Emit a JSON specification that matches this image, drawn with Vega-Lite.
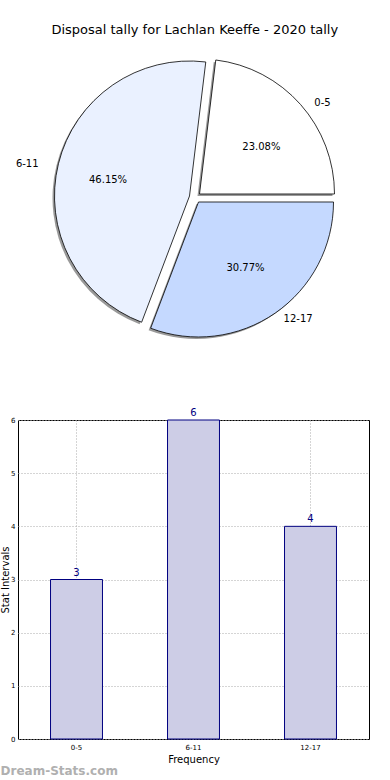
{
  "$schema": "https://vega.github.io/schema/vega-lite/v6.json",
  "padding": {"left": 0, "top": 24, "right": 0, "bottom": 0},
  "config": {
    "font": "DejaVu Sans",
    "view": {"stroke": "#000000", "strokeWidth": 1},
    "axis": {"labelFont": "DejaVu Sans", "titleFont": "DejaVu Sans", "labelColor": "#000", "titleColor": "#000", "titleFontWeight": "normal", "minExtent": 0}
  },
  "title": {"text": "Disposal tally for Lachlan Keeffe - 2020 tally", "fontSize": 13, "fontWeight": "normal", "font": "DejaVu Sans", "anchor": "middle", "color": "#000", "offset": 5, "dx": 10},
  "datasets": {
    "tally": [
      {"cat": "0-5", "count": 3, "pct": "23.08%"},
      {"cat": "6-11", "count": 6, "pct": "46.15%"},
      {"cat": "12-17", "count": 4, "pct": "30.77%"}
    ]
  },
  "vconcat": [
    {
      "width": 351,
      "height": 310,
      "view": {"stroke": null},
      "data": {"name": "tally"},
      "transform": [
        {"stack": "count", "groupby": [], "as": ["s0", "s1"], "sort": [{"field": "cat", "order": "ascending"}]}
      ],
      "encoding": {
        "theta": {"field": "s0", "type": "quantitative", "scale": {"domain": [0, 13], "range": [0.1208, 6.404]}},
        "theta2": {"field": "s1"}
      },
      "layer": [
        {"transform": [{"filter": "datum.cat === '0-5'"}], "mark": {"type": "arc", "outerRadius": 135, "fill": "#808080", "fillOpacity": 0.8, "xOffset": 4, "yOffset": -1}},
        {"transform": [{"filter": "datum.cat === '12-17'"}], "mark": {"type": "arc", "outerRadius": 135, "fill": "#808080", "fillOpacity": 0.8, "xOffset": 3, "yOffset": 7}},
        {"transform": [{"filter": "datum.cat === '6-11'"}], "mark": {"type": "arc", "outerRadius": 135, "fill": "#808080", "fillOpacity": 0.8, "xOffset": -6, "yOffset": 1}},
        {"transform": [{"filter": "datum.cat === '0-5'"}], "mark": {"type": "arc", "outerRadius": 135, "fill": "#ffffff", "stroke": "#000", "strokeWidth": 0.8, "xOffset": 6, "yOffset": -3}},
        {"transform": [{"filter": "datum.cat === '12-17'"}], "mark": {"type": "arc", "outerRadius": 135, "fill": "#c5d9ff", "stroke": "#000", "strokeWidth": 0.8, "xOffset": 5, "yOffset": 5}},
        {"transform": [{"filter": "datum.cat === '6-11'"}], "mark": {"type": "arc", "outerRadius": 135, "fill": "#eaf1ff", "stroke": "#000", "strokeWidth": 0.8, "xOffset": -4, "yOffset": -1}},
        {
          "mark": {"type": "text", "radius": 88, "fontSize": 10, "color": "#000", "dx": 2, "dy": 8},
          "encoding": {
            "theta": {"field": "count", "type": "quantitative", "stack": true},
            "theta2": null,
            "order": {"field": "cat", "sort": "ascending"},
            "text": {"condition": {"test": "datum.cat === '0-5'", "field": "pct"}, "value": ""}
          }
        },
        {
          "mark": {"type": "text", "radius": 88, "fontSize": 10, "color": "#000", "dx": 0, "dy": 4},
          "encoding": {
            "theta": {"field": "count", "type": "quantitative", "stack": true},
            "theta2": null,
            "order": {"field": "cat", "sort": "ascending"},
            "text": {"condition": {"test": "datum.cat === '6-11'", "field": "pct"}, "value": ""}
          }
        },
        {
          "mark": {"type": "text", "radius": 88, "fontSize": 10, "color": "#000", "dx": 2, "dy": -1},
          "encoding": {
            "theta": {"field": "count", "type": "quantitative", "stack": true},
            "theta2": null,
            "order": {"field": "cat", "sort": "ascending"},
            "text": {"condition": {"test": "datum.cat === '12-17'", "field": "pct"}, "value": ""}
          }
        },
        {
          "mark": {"type": "text", "radius": 163, "fontSize": 10, "color": "#000", "dx": 7, "dy": 14},
          "encoding": {
            "theta": {"field": "count", "type": "quantitative", "stack": true},
            "theta2": null,
            "order": {"field": "cat", "sort": "ascending"},
            "text": {"condition": {"test": "datum.cat === '0-5'", "field": "cat"}, "value": ""}
          }
        },
        {
          "mark": {"type": "text", "radius": 163, "fontSize": 10, "color": "#000", "dx": -8, "dy": 6},
          "encoding": {
            "theta": {"field": "count", "type": "quantitative", "stack": true},
            "theta2": null,
            "order": {"field": "cat", "sort": "ascending"},
            "text": {"condition": {"test": "datum.cat === '6-11'", "field": "cat"}, "value": ""}
          }
        },
        {
          "mark": {"type": "text", "radius": 163, "fontSize": 10, "color": "#000", "dx": 12, "dy": -12},
          "encoding": {
            "theta": {"field": "count", "type": "quantitative", "stack": true},
            "theta2": null,
            "order": {"field": "cat", "sort": "ascending"},
            "text": {"condition": {"test": "datum.cat === '12-17'", "field": "cat"}, "value": ""}
          }
        }
      ]
    },
    {
      "width": 351,
      "height": 319,
      "data": {"name": "tally"},
      "title": {"text": "Dream-Stats.com", "orient": "bottom", "anchor": "start", "frame": "bounds", "fontSize": 12, "fontWeight": "bold", "color": "#b0b0b0", "offset": 2},
      "encoding": {
        "x": {"field": "cat", "type": "nominal", "sort": ["0-5", "6-11", "12-17"],
          "scale": {"paddingInner": 0.556, "paddingOuter": 0.278},
          "axis": {"title": "Frequency", "titleFontSize": 10, "labelFontSize": 7, "labelAngle": 0, "ticks": false, "labelPadding": 4, "titlePadding": 4, "grid": true, "bandPosition": 0.5, "gridDash": [1, 2], "gridColor": "#aaa", "domain": false}},
        "y": {"field": "count", "type": "quantitative",
          "scale": {"domain": [0, 6], "nice": false},
          "axis": {"title": "Stat Intervals", "titleFontSize": 10, "labelFontSize": 7, "values": [0, 1, 2, 3, 4, 5, 6], "ticks": false, "labelPadding": 3, "titlePadding": 0, "grid": true, "gridDash": [1, 2], "gridColor": "#aaa", "domain": false}}
      },
      "layer": [
        {"mark": {"type": "bar", "fill": "#cdcde6", "stroke": "#000080", "strokeWidth": 1}},
        {"mark": {"type": "text", "dy": -2, "baseline": "bottom", "fontSize": 10, "color": "#000080"}, "encoding": {"text": {"field": "count"}}}
      ]
    }
  ],
  "spacing": 55
}
